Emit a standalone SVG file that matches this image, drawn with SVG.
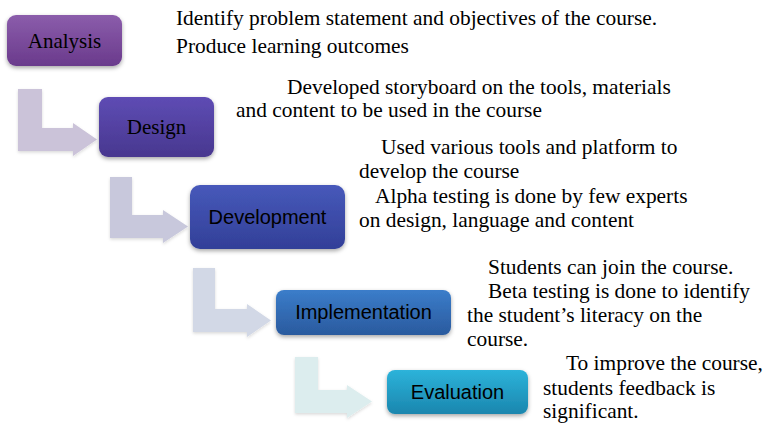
<svg xmlns="http://www.w3.org/2000/svg" width="764" height="426" viewBox="0 0 764 426">
<defs>
<linearGradient id="gA" x1="0" y1="0" x2="0" y2="1"><stop offset="0" stop-color="#8b5dab"/><stop offset="1" stop-color="#6a3a8c"/></linearGradient>
<linearGradient id="gB" x1="0" y1="0" x2="0" y2="1"><stop offset="0" stop-color="#5e4cb4"/><stop offset="1" stop-color="#48378f"/></linearGradient>
<linearGradient id="gC" x1="0" y1="0" x2="0" y2="1"><stop offset="0" stop-color="#4759ba"/><stop offset="1" stop-color="#323f98"/></linearGradient>
<linearGradient id="gD" x1="0" y1="0" x2="0" y2="1"><stop offset="0" stop-color="#3b7dca"/><stop offset="1" stop-color="#2a5a9e"/></linearGradient>
<linearGradient id="gE" x1="0" y1="0" x2="0" y2="1"><stop offset="0" stop-color="#2db3da"/><stop offset="1" stop-color="#1a86ae"/></linearGradient>
<filter id="sh" x="-20%" y="-20%" width="140%" height="160%"><feDropShadow dx="0" dy="2" stdDeviation="2" flood-color="#000" flood-opacity="0.35"/></filter>
<filter id="ash" x="-20%" y="-20%" width="140%" height="140%"><feDropShadow dx="0" dy="1.5" stdDeviation="1.5" flood-color="#000" flood-opacity="0.15"/></filter>
</defs>
<style>
.box{filter:url(#sh)}
.lbl1{font-family:"Liberation Serif","Times New Roman",serif;font-size:21px;fill:#000;text-anchor:middle}
.lbl2{font-family:"Liberation Sans",Arial,sans-serif;font-size:20px;fill:#000;text-anchor:middle}
.desc{font-family:"Liberation Serif","Times New Roman",serif;font-size:21.4px;fill:#000}
.arr{filter:url(#ash)}
</style>
<rect width="764" height="426" fill="#fff"/>
<g id="connectors">
<path class="arr" d="M18,89 H42 V128 H73 V123 L97,139.5 L73,156 V151 H18 Z" fill="#cbc3d9"/>
<path class="arr" d="M110,177 H132 V215 H163 V210 L188,226.5 L163,243 V238 H110 Z" fill="#c8c8dc"/>
<path class="arr" d="M193,268 H215 V309 H247 V304 L271,320.5 L247,337 V332 H193 Z" fill="#d2d8e6"/>
<path class="arr" d="M295,357 H318 V390 H347 V385 L372,401.5 L347,418 V413 H295 Z" fill="#dcedee"/>
</g>
<g id="analysis">
<rect class="box" x="7" y="15" width="115" height="51" rx="9" fill="url(#gA)"/>
<text class="lbl1" x="64.5" y="48">Analysis</text>
</g>
<g id="design">
<rect class="box" x="99" y="97" width="115" height="60" rx="9" fill="url(#gB)"/>
<text class="lbl1" x="156.5" y="134">Design</text>
</g>
<g id="development">
<rect class="box" x="190" y="185" width="155" height="64" rx="10" fill="url(#gC)"/>
<text class="lbl2" x="267.5" y="224">Development</text>
</g>
<g id="implementation">
<rect class="box" x="276" y="290" width="175" height="45" rx="8" fill="url(#gD)"/>
<text class="lbl2" x="363.5" y="319">Implementation</text>
</g>
<g id="evaluation">
<rect class="box" x="387" y="370" width="141" height="44" rx="8" fill="url(#gE)"/>
<text class="lbl2" x="457.5" y="399">Evaluation</text>
</g>
<g id="texts">
<text class="desc" x="176" y="25">Identify problem statement and objectives of the course.</text>
<text class="desc" x="176" y="53">Produce learning outcomes</text>
<text class="desc" x="287" y="94">Developed storyboard on the tools, materials</text>
<text class="desc" x="236" y="117">and content to be used in the course</text>
<text class="desc" x="381" y="154">Used various tools and platform to</text>
<text class="desc" x="359" y="178">develop the course</text>
<text class="desc" x="375" y="203">Alpha testing is done by few experts</text>
<text class="desc" x="359" y="227">on design, language and content</text>
<text class="desc" x="488" y="274">Students can join the course.</text>
<text class="desc" x="488" y="298">Beta testing is done to identify</text>
<text class="desc" x="467" y="322">the student’s literacy on the</text>
<text class="desc" x="467" y="346">course.</text>
<text class="desc" x="566" y="370">To improve the course,</text>
<text class="desc" x="543" y="395">students feedback is</text>
<text class="desc" x="543" y="418">significant.</text>
</g>
</svg>
